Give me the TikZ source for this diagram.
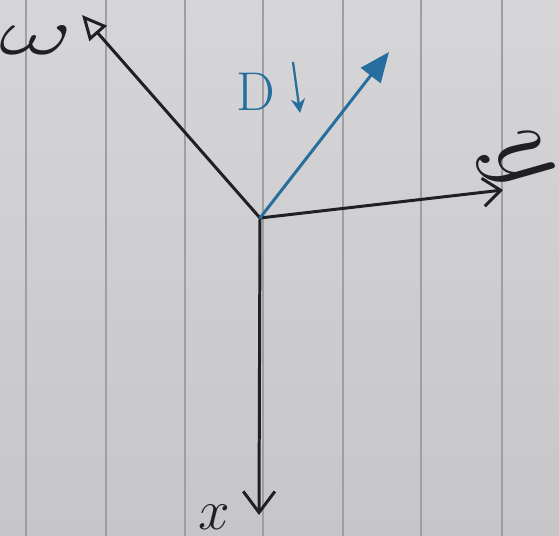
\documentclass[tikz,border=0pt]{standalone}
\usepackage{tikz}
\usetikzlibrary{arrows.meta}
\definecolor{xpaper}{RGB}{214,214,216}
\definecolor{xpaperlow}{RGB}{198,198,201}
\definecolor{xrule}{RGB}{158,158,164}
\definecolor{xink}{RGB}{32,32,36}
\definecolor{xblue}{RGB}{38,110,158}

\begin{document}
\begin{tikzpicture}[x=0.02cm, y=-0.02cm,
  axis/.style={draw=xink, line width=1.7pt, line cap=round},
  vecarr/.style={draw=xblue, line width=1.7pt, line cap=round},
  letter/.style={text=xink, inner sep=0pt, font=\Huge},
  bluelabel/.style={text=xblue, inner sep=0pt, font=\Huge, scale=1.25}
]
  % paper
  \shade[top color=xpaper, bottom color=xpaperlow] (0,0) rectangle (559,536);
  \useasboundingbox (0,0) rectangle (559,536);
  \foreach \px in {26,106,185,263,343,421,502}
    \draw[xrule, line width=1pt] (\px,0) -- (\px,536);

  % axes
  \coordinate (origin) at (260,218);
  \coordinate (xend) at (259,515);
  \coordinate (yend) at (503,190);
  \coordinate (wend) at (82,15);
  \coordinate (dend) at (389,52);

  \draw[axis, -{Straight Barb[length=12pt, width=18pt, line width=1.7pt]}] (origin) -- (xend);
  \draw[axis, -{Straight Barb[length=10pt, width=16pt, line width=1.7pt]}] (origin) -- (yend);
  \draw[axis, -{Triangle[open, length=14pt, width=13pt, line width=1.7pt]}] (origin) -- (wend);
  \draw[vecarr, -{Triangle[length=17pt, width=14pt]}] (origin) -- (dend);

  % labels
  \node[letter, scale=1.3] (xlabel) at (214,517) {$x$};
  \node[letter, scale=2.5, rotate=-60] (ylabel) at (515,163) {$y$};
  \node[letter, xscale=2.6, yscale=1.5] (wlabel) at (36,40) {$\omega$};
  \node[bluelabel] (dlabel) at (256,92) {D};

  \coordinate (dtop) at (293,62);
  \coordinate (dbot) at (300,113);
  \draw[xblue, line width=1.3pt, -{Stealth[length=8pt, width=8pt]}] (dtop) -- (dbot);
\end{tikzpicture}
\end{document}
